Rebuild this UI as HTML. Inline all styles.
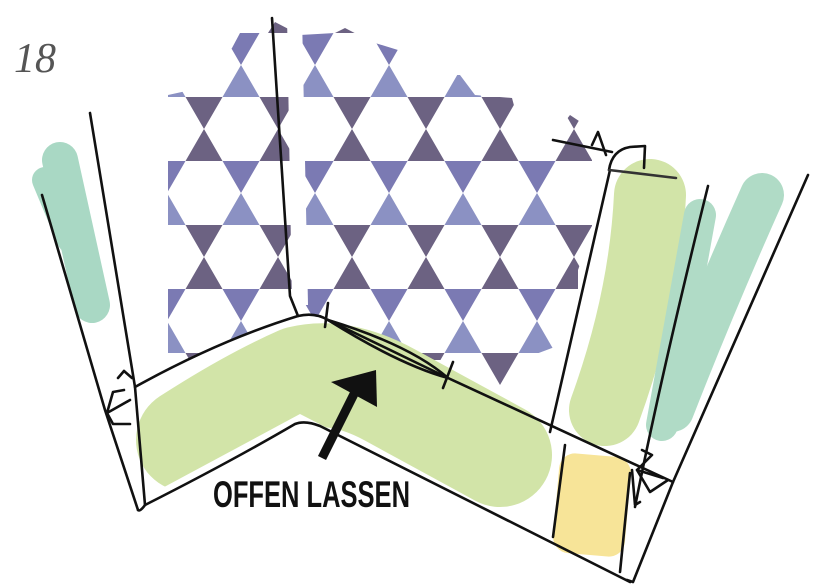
<!DOCTYPE html>
<html><head><meta charset="utf-8"><style>
html,body{margin:0;padding:0;background:#fff;width:815px;height:588px;overflow:hidden}
svg{display:block}
</style></head><body>
<svg width="815" height="588" viewBox="0 0 815 588" xmlns="http://www.w3.org/2000/svg">
<defs>
<pattern id="tri" patternUnits="userSpaceOnUse" width="74" height="128" patternTransform="translate(167,97)">
<polygon points="18.5,0 55.5,0 37,32" fill="#6c6282"/>
<polygon points="37,32 18.5,64 55.5,64" fill="#6c6282"/>
<polygon points="-18.5,64 18.5,64 0,96" fill="#7b7ab3"/>
<polygon points="0,96 -18.5,128 18.5,128" fill="#8b91c3"/>
<polygon points="55.5,64 92.5,64 74,96" fill="#7b7ab3"/>
<polygon points="74,96 55.5,128 92.5,128" fill="#8b91c3"/>
</pattern>
<clipPath id="blob"><polygon points="168,95 200,88 232,48 240,33 268,33 275,22 300,35 335,33 345,28 372,42 398,50 398,65 430,75 460,75 475,95 512,98 520,128 560,128 570,115 585,125 592,140 592,230 578,270 578,300 560,345 520,360 505,385 480,385 470,360 168,360"/></clipPath>
<clipPath id="band"><path d="M120,380 Q220,330 300,305 L335,310 L690,480 L630,590 L555,545 L300,414 L140,500 Z"/></clipPath>
</defs>
<rect x="0" y="0" width="815" height="588" fill="#fff"/>
<g clip-path="url(#blob)"><rect x="160" y="0" width="440" height="400" fill="url(#tri)"/></g>
<polygon points="287,15 302,15 308,305 292,305" fill="#fff"/>
<path d="M135,385 Q220,340 300,313 L330,320 L673,482 L630,582 L555,545 L300,422 L145,505 Z" fill="#fff"/>
<path d="M60,160 L92,305" stroke="#a9d8c4" stroke-width="36" stroke-linecap="round" fill="none"/>
<path d="M45,180 L70,240" stroke="#a9d8c4" stroke-width="26" stroke-linecap="round" fill="none"/>
<g clip-path="url(#band)">
<path d="M188,440 Q250,400 300,378 Q340,368 390,395 L500,455" stroke="#d2e4a8" stroke-width="104" stroke-linecap="round" stroke-linejoin="round" fill="none"/>
</g>
<path d="M650,195 Q645,300 605,410" stroke="#d2e4a8" stroke-width="72" stroke-linecap="round" fill="none"/>
<path d="M700,215 L662,425" stroke="#b0dbc6" stroke-width="32" stroke-linecap="round" fill="none"/>
<path d="M762,195 Q715,300 672,410" stroke="#b0dbc6" stroke-width="44" stroke-linecap="round" fill="none"/>
<rect x="556" y="455" width="72" height="100" rx="16" fill="#f7e498" transform="rotate(5 592 505)"/>
<g fill="none" stroke="#111" stroke-width="2.6" stroke-linecap="round" stroke-linejoin="round">
<path d="M90,113 L135,387 L145,505"/>
<path d="M42,195 L105,410 L138,510"/>
<path d="M138,510 Q140,512 145,505"/>
<path d="M107,413 L113,392 L124,390"/>
<path d="M107,413 L130,400"/>
<path d="M107,413 L113,424 L130,424"/>
<path d="M118,378 L124,371"/>
<path d="M124,371 L132,378"/>
<path d="M135,387 Q220,340 298,316 Q315,312 328,320 L448,378 L673,482"/>
<path d="M145,505 Q230,462 295,424 Q305,420 320,426 L630,582"/>
<path d="M328,320 Q410,345 448,378"/>
<path d="M328,320 Q400,365 448,378"/>
<path d="M328,303 L325,327"/>
<path d="M453,362 L443,388"/>
<path d="M272,18 L290,296 L298,316"/>
<path d="M610,170 L550,432"/>
<path d="M708,186 Q660,380 635,507"/>
<path d="M808,175 L673,482 L633,582 L627,580"/>
<path d="M565,445 L553,537"/>
<path d="M630,473 L620,572"/>
<path d="M553,140 L612,152"/>
<path d="M592,145 L598,132 L606,155"/>
<path d="M609,170 Q612,150 630,147 L645,146 L644,168"/>
<path d="M609,170 L676,178" stroke="#333"/>
<path d="M642,450 L652,455 L637,470 L663,478"/>
<path d="M637,470 L650,492 L668,480"/>
<path d="M632,470 L635,505 L640,502"/>
</g>
<line x1="322" y1="458" x2="355" y2="392" stroke="#111" stroke-width="9"/>
<polygon points="376,370 331,382 377,407" fill="#111"/>
<text x="213" y="507" font-family="Liberation Sans Narrow, Liberation Sans, sans-serif" font-weight="bold" font-size="37" textLength="197" lengthAdjust="spacingAndGlyphs" fill="#111">OFFEN LASSEN</text>
<text x="14" y="72" font-family="Liberation Serif, serif" font-style="italic" font-size="42" fill="#555">18</text>
</svg>
</body></html>
